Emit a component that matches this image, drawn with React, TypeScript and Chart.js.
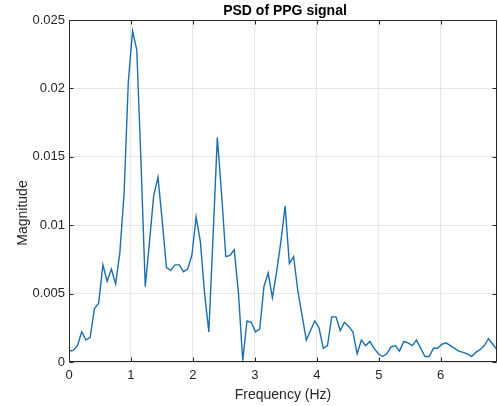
import React, { useEffect, useRef } from "react";
import { Chart, registerables } from "chart.js";

Chart.register(...registerables);

// Frequency resolution of the PSD (Hz per bin)
const FREQ_STEP_HZ = 0.0684;

// PSD magnitude per frequency bin
const magnitude = [
  0.0008, 0.00085, 0.0012, 0.0022, 0.0016, 0.0018, 0.0039, 0.0043, 0.0071, 0.0059,
  0.0068, 0.0057, 0.008, 0.0123, 0.0205, 0.0242, 0.0228, 0.0145, 0.0055, 0.0088,
  0.0122, 0.0135, 0.0103, 0.0069, 0.0067, 0.0071, 0.0071, 0.0066, 0.0068, 0.0078,
  0.0106, 0.0088, 0.005, 0.0022, 0.0092, 0.0164, 0.0123, 0.0077, 0.0078, 0.0082,
  0.005, 0.0001, 0.003, 0.0029, 0.0022, 0.0024, 0.0055, 0.0065, 0.0047, 0.0066,
  0.0088, 0.0114, 0.0072, 0.0077, 0.0052, 0.0034, 0.0016, 0.0023, 0.003, 0.0025,
  0.001, 0.0012, 0.0033, 0.0033, 0.0023, 0.0029, 0.0026, 0.0022, 0.0006, 0.0016,
  0.0012, 0.0015, 0.001, 0.0006, 0.0004, 0.0006, 0.0011, 0.0012, 0.0008, 0.0015,
  0.0014, 0.0012, 0.0016, 0.001, 0.0004, 0.0004, 0.001, 0.001, 0.0013, 0.0014,
  0.0012, 0.001, 0.0008, 0.0007, 0.0006, 0.0004, 0.0007, 0.0009, 0.0012, 0.0017,
  0.0013, 0.0009,
];

const xTickValues = [0, 1, 2, 3, 4, 5, 6];
const yTickValues = [0, 0.005, 0.01, 0.015, 0.02, 0.025];
const X_MAX = (magnitude.length - 1) * FREQ_STEP_HZ;
const Y_MAX = 0.025;

const TITLE = "PSD of PPG signal";
const X_TITLE = "Frequency (Hz)";
const Y_TITLE = "Magnitude";

const FONT = "'Liberation Sans', Arial, Helvetica, sans-serif";
const AXIS_COLOR = "#262626";

const boxPlugin = {
  id: "matlabBox",
  afterDraw(chart: any) {
    const { ctx, chartArea: a, scales } = chart;
    const L = Math.round(a.left) + 0.5;
    const R = Math.round(a.right) - 0.5;
    const T = Math.round(a.top) + 0.5;
    const B = Math.round(a.bottom) - 0.5;
    ctx.save();
    ctx.strokeStyle = AXIS_COLOR;
    ctx.lineWidth = 1;
    ctx.beginPath();
    ctx.rect(L, T, R - L, B - T);
    const tl = 4;
    xTickValues.forEach((v) => {
      const px = Math.round(scales.x.getPixelForValue(v)) + 0.5;
      ctx.moveTo(px, B);
      ctx.lineTo(px, B - tl);
      ctx.moveTo(px, T);
      ctx.lineTo(px, T + tl);
    });
    yTickValues.forEach((v) => {
      const py = Math.round(scales.y.getPixelForValue(v)) + 0.5;
      ctx.moveTo(L, py);
      ctx.lineTo(L + tl, py);
      ctx.moveTo(R, py);
      ctx.lineTo(R - tl, py);
    });
    ctx.stroke();

    // title, centred over the plot area
    ctx.fillStyle = "#000000";
    ctx.font = `bold 14px ${FONT}`;
    ctx.textAlign = "center";
    ctx.textBaseline = "middle";
    ctx.fillText(TITLE, (a.left + a.right) / 2 + 2, 11);

    // y-axis label
    ctx.fillStyle = AXIS_COLOR;
    ctx.font = `14px ${FONT}`;
    ctx.translate(23, 213);
    ctx.rotate(-Math.PI / 2);
    ctx.fillText(Y_TITLE, 0, 0);
    ctx.restore();
  },
};

export default function App() {
  const ref = useRef<HTMLCanvasElement | null>(null);

  useEffect(() => {
    if (!ref.current) return;
    const chart = new Chart(ref.current, {
      type: "line",
      data: {
        datasets: [
          {
            label: "PSD",
            data: magnitude.map((m, i) => ({ x: i * FREQ_STEP_HZ, y: m })),
            borderColor: "#1b6fb0",
            borderWidth: 1.4,
            pointRadius: 0,
            tension: 0,
            fill: false,
          },
        ],
      },
      options: {
        animation: false,
        responsive: false,
        maintainAspectRatio: false,
        layout: { padding: { left: 0, right: 1, top: 20, bottom: 0 } },
        plugins: {
          legend: { display: false },
          tooltip: { enabled: false },
          title: { display: false },
        },
        scales: {
          x: {
            type: "linear",
            min: 0,
            max: X_MAX,
            afterBuildTicks: (s: any) => {
              s.ticks = xTickValues.map((value) => ({ value }));
            },
            afterFit: (s: any) => {
              s.height = 44;
            },
            ticks: {
              padding: 6,
              color: AXIS_COLOR,
              font: { family: FONT, size: 13 },
              maxRotation: 0,
              autoSkip: false,
              callback: (v: any) => String(v),
            },
            grid: { color: "#e6e6e6", drawTicks: false },
            border: { display: false },
            title: {
              display: true,
              text: X_TITLE,
              color: AXIS_COLOR,
              font: { family: FONT, size: 14 },
              padding: { top: 0, bottom: 2.5 },
            },
          },
          y: {
            type: "linear",
            min: 0,
            max: Y_MAX,
            afterBuildTicks: (s: any) => {
              s.ticks = yTickValues.map((value) => ({ value }));
            },
            afterFit: (s: any) => {
              s.width = 69;
            },
            ticks: {
              padding: 4,
              color: AXIS_COLOR,
              font: { family: FONT, size: 13 },
              autoSkip: false,
              callback: (v: any) => String(parseFloat(Number(v).toFixed(4))),
            },
            grid: { color: "#e6e6e6", drawTicks: false },
            border: { display: false },
          },
        },
      },
      plugins: [boxPlugin],
    });
    return () => chart.destroy();
  }, []);

  return (
    <div style={{ position: "absolute", left: 0, top: 0, width: 498, height: 406, background: "#fff" }}>
      <canvas ref={ref} width={498} height={406} style={{ display: "block" }} />
    </div>
  );
}
